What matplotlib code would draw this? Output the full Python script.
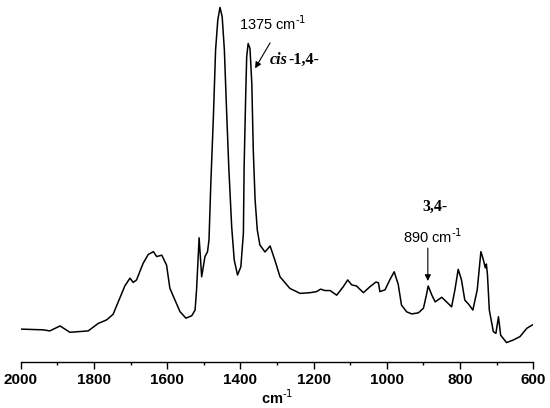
import matplotlib
matplotlib.use('Agg')
import matplotlib.pyplot as plt
from matplotlib.ticker import MultipleLocator

# IR spectrum (wavenumber, cm-1 / absorbance, a.u.)
wavenumber = [1998, 1939, 1921, 1893, 1866, 1816, 1789, 1766, 1748, 1734,
              1716, 1702, 1693, 1684, 1666, 1652, 1638, 1629, 1615, 1602,
              1593, 1579, 1565, 1549, 1533, 1524, 1520, 1513, 1506, 1497,
              1490, 1486, 1481, 1474, 1468, 1462, 1456, 1450, 1444, 1438,
              1432, 1424, 1417, 1408, 1399, 1392, 1390, 1386, 1383, 1379,
              1374, 1369, 1365, 1360, 1354, 1347, 1333, 1319, 1306,
              1292, 1265, 1237, 1210, 1192, 1181, 1169, 1155, 1137, 1119,
              1107, 1096, 1083, 1064, 1046, 1030, 1023, 1019, 1005, 992,
              980, 969, 960, 946, 932, 914, 900, 892, 887, 877,
              868, 850, 837, 823, 814, 805, 796, 787, 777, 765,
              753, 743, 736, 731, 728, 725, 720, 709, 702, 695,
              689, 673, 655, 636, 618, 602]
absorbance = [0.092, 0.090, 0.087, 0.101, 0.083, 0.087, 0.108, 0.118, 0.134, 0.169,
              0.214, 0.236, 0.224, 0.231, 0.278, 0.303, 0.311, 0.297, 0.301, 0.273,
              0.208, 0.174, 0.141, 0.123, 0.130, 0.146, 0.203, 0.350, 0.240, 0.297,
              0.311, 0.344, 0.504, 0.692, 0.881, 0.965, 1.001, 0.975, 0.881, 0.711,
              0.551, 0.381, 0.287, 0.245, 0.268, 0.363, 0.551, 0.739, 0.862, 0.899,
              0.885, 0.786, 0.598, 0.457, 0.372, 0.330, 0.310, 0.327, 0.287,
              0.240, 0.207, 0.193, 0.195, 0.198, 0.205, 0.201, 0.201, 0.188, 0.212,
              0.231, 0.217, 0.214, 0.195, 0.212, 0.225, 0.223, 0.198, 0.203, 0.231,
              0.254, 0.219, 0.160, 0.141, 0.135, 0.138, 0.151, 0.188, 0.214, 0.188,
              0.169, 0.182, 0.169, 0.155, 0.203, 0.261, 0.231, 0.174, 0.163, 0.146,
              0.203, 0.311, 0.287, 0.265, 0.276, 0.245, 0.146, 0.085, 0.080, 0.127,
              0.075, 0.054, 0.061, 0.071, 0.094, 0.104]

sans = 'Liberation Sans'
serif = 'Liberation Serif'

fig = plt.figure(figsize=(5.5, 4.08), dpi=100)
ax = fig.add_axes([0.038, 0.1135, 0.9315, 0.8865])

ax.plot(wavenumber, absorbance, color='black', lw=1.1)

ax.set_xlim(2000, 600)
ax.set_ylim(0, 1.022)
ax.xaxis.set_major_locator(MultipleLocator(200))
ax.xaxis.set_minor_locator(MultipleLocator(100))
ax.tick_params(axis='x', which='major', direction='out', length=5, width=1, pad=3)
ax.tick_params(axis='x', which='minor', direction='out', length=2.5, width=1)
for s in ['left', 'top', 'right']:
    ax.spines[s].set_visible(False)
ax.spines['bottom'].set_linewidth(1)
ax.set_yticks([])
for lab in ax.get_xticklabels():
    lab.set_fontfamily(sans)
    lab.set_fontweight('bold')
    lab.set_fontsize(11)
ax.set_xlabel(r'cm$^{\text{-1}}$', family=sans, weight='bold', fontsize=10.5, labelpad=1)

# cis-1,4- band
ax.text(1311, 0.954, r'1375 cm$^{\text{-1}}$', family=sans, fontsize=10.5,
        ha='center', va='center')
ax.annotate('', xy=(1360, 0.829), xytext=(1319, 0.901),
            arrowprops=dict(arrowstyle='-|>', color='black', lw=0.8,
                            mutation_scale=9, shrinkA=0, shrinkB=0))
t1 = ax.text(1319, 0.852, 'cis', family=serif, style='italic', weight='bold',
             fontsize=11.5, ha='left', va='center')
ax.annotate('-1,4-', xy=(1, 0), xycoords=t1, family=serif, weight='bold',
            fontsize=11.5, ha='left', va='bottom')

# 3,4- band
ax.text(869, 0.438, '3,4-', family=serif, weight='bold', fontsize=11.5,
        ha='center', va='center')
ax.text(874, 0.353, r'890 cm$^{\text{-1}}$', family=sans, fontsize=10.5,
        ha='center', va='center')
ax.annotate('', xy=(888, 0.228), xytext=(888, 0.321),
            arrowprops=dict(arrowstyle='-|>', color='black', lw=0.8,
                            mutation_scale=9, shrinkA=0, shrinkB=0))

fig.savefig('out.png', dpi=100)
